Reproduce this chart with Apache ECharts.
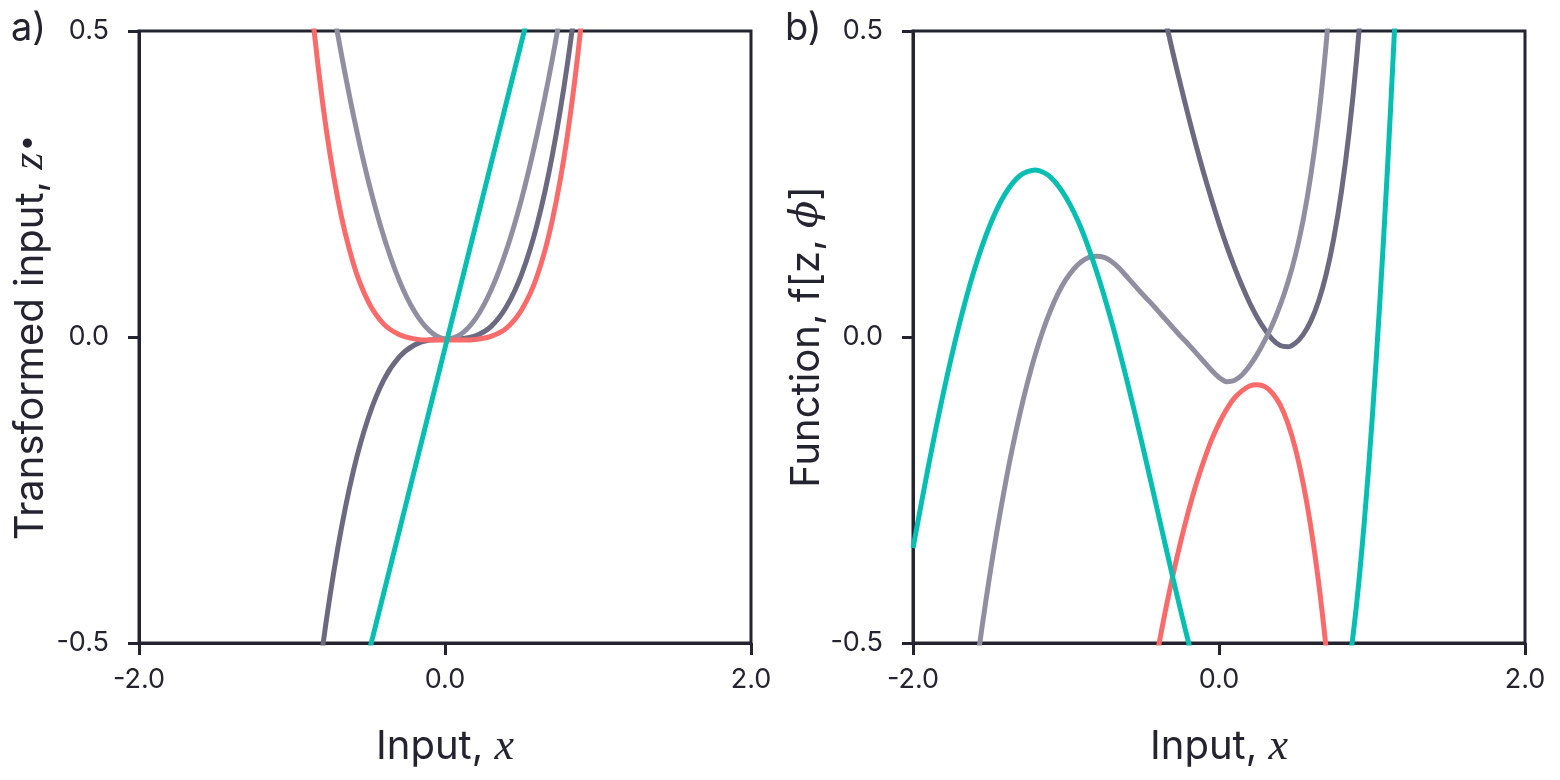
<!DOCTYPE html>
<html>
<head>
<meta charset="utf-8">
<script src="https://cdn.jsdelivr.net/npm/echarts@6/dist/echarts.min.js"></script>
<style>
html,body{margin:0;padding:0;background:#fff;}
#chart{width:1560px;height:780px;}
</style>
</head>
<body>
<div id="chart"></div>
<script>
// ---- Data ----
const xTicks = [-2.0, 0.0, 2.0];
const yTicks = [-0.5, 0.0, 0.5];

// Panel a): transformed inputs
const leftX    = [-1.0,-0.9,-0.8,-0.7,-0.6,-0.5,-0.4,-0.3,-0.2,-0.1,0.0,0.1,0.2,0.3,0.4,0.5,0.6,0.7,0.8,0.9,1.0];
const leftTeal = [-1.018,-0.918,-0.818,-0.718,-0.618,-0.518,-0.418,-0.318,-0.218,-0.118,-0.018,0.082,0.182,0.282,0.382,0.482,0.582,0.682,0.782,0.882,0.982];
const leftGray = [0.996,0.809,0.641,0.493,0.364,0.254,0.164,0.093,0.042,0.010,-0.003,0.004,0.030,0.076,0.141,0.225,0.329,0.452,0.595,0.757,0.938];
const leftDark = [-0.977,-0.716,-0.507,-0.344,-0.220,-0.131,-0.070,-0.033,-0.013,-0.005,-0.004,-0.003,0.002,0.017,0.049,0.102,0.182,0.295,0.446,0.641,0.885];
const leftRed  = [0.929,0.612,0.383,0.225,0.121,0.057,0.021,0.004,-0.003,-0.005,-0.005,-0.005,-0.004,0.001,0.014,0.044,0.098,0.189,0.329,0.535,0.823];

// Panel b): functions
const rightTealA = [[-2.0,-0.345],[-1.9,-0.212],[-1.8,-0.090],[-1.7,0.018],[-1.6,0.109],[-1.5,0.181],[-1.4,0.233],[-1.3,0.264],[-1.2,0.273],[-1.1,0.261],[-1.0,0.228],[-0.9,0.177],[-0.8,0.107],[-0.7,0.023],[-0.6,-0.073],[-0.5,-0.177],[-0.4,-0.286],[-0.3,-0.395],[-0.2,-0.498],[-0.1,-0.590]];
const rightTealB = [[0.85,-0.541],[0.9,-0.435],[0.95,-0.301],[1.0,-0.138],[1.05,0.052],[1.1,0.270],[1.15,0.516]];
const rightGray = [[-1.6,-0.567],[-1.55,-0.476],[-1.5,-0.392],[-1.45,-0.315],[-1.4,-0.245],[-1.35,-0.181],[-1.3,-0.124],[-1.25,-0.073],[-1.2,-0.028],[-1.15,0.011],[-1.1,0.044],[-1.05,0.072],[-1.0,0.094],[-0.95,0.111],[-0.9,0.123],[-0.85,0.130],[-0.8,0.132],[-0.75,0.130],[-0.7,0.123],[-0.65,0.112],[-0.6,0.098],[-0.55,0.084],[-0.5,0.070],[-0.45,0.057],[-0.4,0.043],[-0.35,0.029],[-0.3,0.015],[-0.25,0.001],[-0.2,-0.012],[-0.15,-0.026],[-0.1,-0.040],[-0.05,-0.054],[0.0,-0.066],[0.05,-0.073],[0.1,-0.071],[0.15,-0.062],[0.2,-0.047],[0.25,-0.028],[0.3,-0.005],[0.35,0.021],[0.4,0.052],[0.45,0.089],[0.5,0.134],[0.55,0.191],[0.6,0.264],[0.65,0.357],[0.7,0.478],[0.75,0.631]];
const rightDark = [[-0.4,0.575],[-0.35,0.518],[-0.3,0.463],[-0.25,0.411],[-0.2,0.361],[-0.15,0.313],[-0.1,0.268],[-0.05,0.226],[0.0,0.186],[0.05,0.149],[0.1,0.115],[0.15,0.084],[0.2,0.056],[0.25,0.032],[0.3,0.012],[0.35,-0.004],[0.4,-0.014],[0.45,-0.016],[0.5,-0.010],[0.55,0.004],[0.6,0.026],[0.65,0.058],[0.7,0.102],[0.75,0.161],[0.8,0.237],[0.85,0.334],[0.9,0.456],[0.95,0.607]];
const rightRed = [[-0.45,-0.582],[-0.4,-0.512],[-0.35,-0.447],[-0.3,-0.388],[-0.25,-0.334],[-0.2,-0.285],[-0.15,-0.241],[-0.1,-0.203],[-0.05,-0.169],[0.0,-0.141],[0.05,-0.118],[0.1,-0.100],[0.15,-0.088],[0.2,-0.080],[0.25,-0.078],[0.3,-0.081],[0.35,-0.092],[0.4,-0.111],[0.45,-0.141],[0.5,-0.183],[0.55,-0.239],[0.6,-0.310],[0.65,-0.399],[0.7,-0.508],[0.75,-0.637]];

// ---- Styles ----
const INK = '#23242f';
const C_TEAL = '#06bfb2';
const C_RED = '#f96b6b';
const C_GRAY = '#8f8fa1';
const C_DARK = '#6b6a80';
const LW = 5;

const chart = echarts.init(document.getElementById('chart'), null, {renderer: 'canvas'});

function xAxisCfg(gridIndex) {
  return {
    type: 'value', gridIndex, min: -2, max: 2, interval: 2,
    axisLine: {show: true, onZero: false, lineStyle: {color: INK, width: 3}},
    axisTick: {show: true, inside: false, length: 12, lineStyle: {color: INK, width: 3}},
    axisLabel: {show: true, margin: 23, fontSize: 27, fontFamily: 'Inter', color: INK,
      formatter: v => (xTicks.includes(v) ? v.toFixed(1) : '')},
    splitLine: {show: false},
    name: '{t|Input, }{m|x}', nameLocation: 'middle', nameGap: 82,
    nameTextStyle: {rich: {
      t: {fontSize: 40, fontFamily: 'Inter', color: INK},
      m: {fontSize: 44, fontFamily: 'Liberation Serif', fontStyle: 'italic', color: INK}
    }}
  };
}
function yAxisCfg(gridIndex, name, rich) {
  return {
    type: 'value', gridIndex, min: -0.5, max: 0.5, interval: 0.5,
    axisLine: {show: true, onZero: false, lineStyle: {color: INK, width: 3}},
    axisTick: {show: true, inside: false, length: 11, lineStyle: {color: INK, width: 3}},
    axisLabel: {show: true, margin: 30, fontSize: 27, fontFamily: 'Inter', color: INK,
      formatter: v => (yTicks.includes(v) ? v.toFixed(1) : '')},
    splitLine: {show: false},
    name, nameLocation: 'middle', nameGap: 86,
    nameTextStyle: {rich}
  };
}

const richLeft = {
  t: {fontSize: 40, fontFamily: 'Inter', color: INK},
  m: {fontSize: 44, fontFamily: 'Liberation Serif', fontStyle: 'italic', color: INK},
  s: {fontSize: 32, fontFamily: 'DejaVu Sans', color: INK}
};
const richRight = {
  t: {fontSize: 40, fontFamily: 'Inter', color: INK},
  m: {fontSize: 40, fontFamily: 'DejaVu Serif', fontStyle: 'italic', color: INK}
};

function line(xi, data, color, z) {
  return {type: 'line', xAxisIndex: xi, yAxisIndex: xi, data, showSymbol: false, symbol: 'none',
    smooth: 0.3, clip: true, z, lineStyle: {color, width: LW, cap: 'butt', join: 'round'}, silent: true};
}
const zip = (xs, ys) => xs.map((x, i) => [x, ys[i]]);

const option = {
  animation: false,
  backgroundColor: '#ffffff',
  grid: [
    {left: 139, top: 31, width: 612, height: 612, show: true, borderColor: INK, borderWidth: 3, backgroundColor: 'transparent'},
    {left: 913, top: 31, width: 612, height: 612, show: true, borderColor: INK, borderWidth: 3, backgroundColor: 'transparent'}
  ],
  xAxis: [xAxisCfg(0), xAxisCfg(1)],
  yAxis: [
    yAxisCfg(0, '{t|Transformed input, }{m|z}{s|•}', richLeft),
    yAxisCfg(1, '{t|Function, f[z, }{m|ϕ}{t|]}', richRight)
  ],
  series: [
    line(0, zip(leftX, leftDark), C_DARK, 2),
    line(0, zip(leftX, leftGray), C_GRAY, 3),
    line(0, zip(leftX, leftRed), C_RED, 4),
    line(0, zip(leftX, leftTeal), C_TEAL, 5),
    line(1, rightDark, C_DARK, 2),
    line(1, rightGray, C_GRAY, 3),
    line(1, rightRed, C_RED, 4),
    line(1, rightTealA, C_TEAL, 5),
    line(1, rightTealB, C_TEAL, 5)
  ],
  graphic: [
    {type: 'text', left: 11, top: 10, style: {text: 'a)', fontSize: 38, fontFamily: 'Inter', fill: INK}},
    {type: 'text', left: 785, top: 10, style: {text: 'b)', fontSize: 38, fontFamily: 'Inter', fill: INK}}
  ]
};
chart.setOption(option);
</script>
</body>
</html>
